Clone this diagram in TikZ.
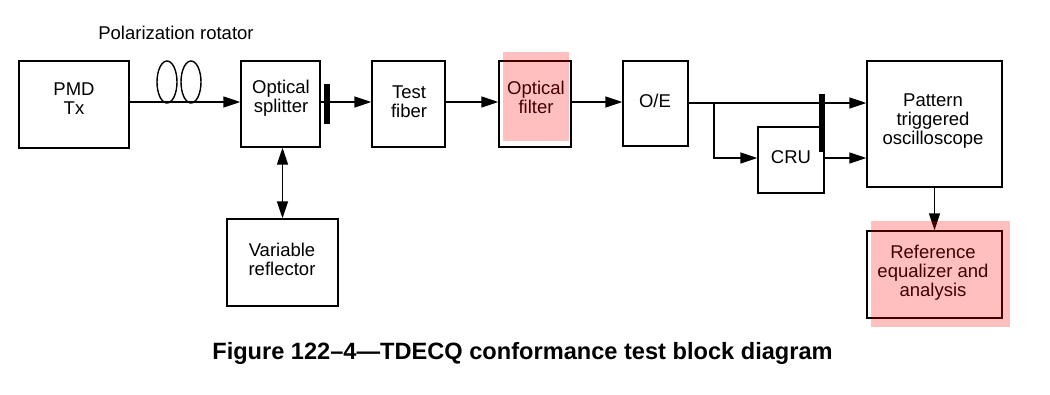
\documentclass[tikz,border=0pt]{standalone}
\usepackage{fontspec}
\setmainfont{Liberation Sans}
\usetikzlibrary{arrows.meta}
\tikzset{
  box/.style={draw, line width=1.4pt, inner sep=0pt},
  lbl/.style={align=center, inner sep=0pt, font=\fontsize{18.5}{19}\selectfont},
  conn/.style={line width=1.4pt},
  tip/.tip={Triangle[length=17pt,width=11pt]},
  arr/.style={conn, -tip},
  darr/.style={conn, tip-tip},
  bar/.style={line width=6pt},
  mark red/.style={fill=red, fill opacity=0.25, draw=none},
}
\begin{document}
\begin{tikzpicture}[x=1pt,y=-1pt]
\useasboundingbox (0,0) rectangle (1050,394);

% blocks
\node[box, minimum width=110pt, minimum height=87pt] (pmd) at (74,104.5) {};
\node[box, minimum width=79pt, minimum height=86pt] (spl) at (280.5,104) {};
\node[box, minimum width=73pt, minimum height=86pt] (tf) at (408.5,104) {};
\node[box, minimum width=72pt, minimum height=86pt] (of) at (535,104) {};
\node[box, minimum width=65pt, minimum height=85pt] (oe) at (655.5,103.5) {};
\node[box, minimum width=66pt, minimum height=66pt] (cru) at (791,160) {};
\node[box, minimum width=135pt, minimum height=126pt] (pat) at (934.5,124) {};
\node[box, minimum width=135pt, minimum height=87pt] (ref) at (934.5,274.5) {};
\node[box, minimum width=111pt, minimum height=87pt] (vr) at (282.5,262.5) {};

% block texts
\node[lbl] (pmdt) at (74,98.5) {PMD\\Tx};
\node[lbl] (splt) at (281,98) {Optical\\splitter};
\node[lbl] (tft) at (409,101.5) {Test\\fiber};
\node[lbl] (oft) at (536,97) {Optical\\filter};
\node[lbl] (oet) at (655,101) {O/E};
\node[lbl] (crut) at (791,157) {CRU};
\node[lbl] (patt) at (933,121.5) {Pattern\\triggered\\oscilloscope};
\node[lbl] (reft) at (933,273) {Reference\\equalizer and\\analysis};
\node[lbl] (vrt) at (282,259) {Variable\\reflector};
\node[lbl] (rot) at (176,33) {Polarization rotator};

% polarization rotator loops
\draw[conn] (167,82) ellipse [x radius=10, y radius=21];
\draw[conn] (191,82) ellipse [x radius=10, y radius=21];

% signal path
\coordinate (r1) at (0,102);
\coordinate (r2) at (0,103);
\coordinate (r3) at (0,158);
\coordinate (tap) at (714,103);
\draw[arr] (pmd.east |- r1) -- (spl.west |- r1);
\draw[arr] (spl.east |- r1) -- (tf.west |- r1);
\draw[arr] (tf.east |- r1) -- (of.west |- r1);
\draw[arr] (of.east |- r1) -- (oe.west |- r1);
\draw[arr] (oe.east |- r2) -- (pat.west |- r2);
\draw[arr] (tap) |- (cru.west |- r3);
\draw[arr] (cru.east |- r3) -- (pat.west |- r3);
\draw[darr] (vr.north) -- (vr.north |- spl.south);
\draw[arr] (pat.south) -- (ref.north);

% thick bars on the fibre and clock lines
\draw[bar] (327,84) -- (327,124);
\draw[bar] (822,94) -- (822,152);

% highlighted blocks
\fill[mark red] (503,52) rectangle (569,141);
\fill[mark red] (871,221) rectangle (1010,327);

% caption
\node[inner sep=0pt, font=\fontsize{23.6}{26}\selectfont\bfseries] (cap) at (522.5,353) {Figure 122--4---TDECQ conformance test block diagram};
\end{tikzpicture}
\end{document}
